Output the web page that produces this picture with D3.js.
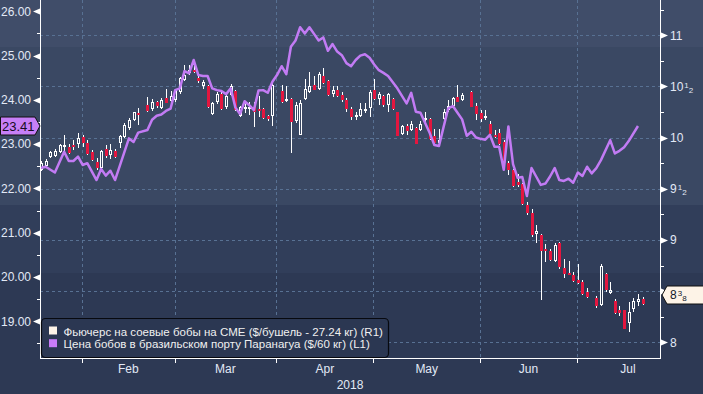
<!DOCTYPE html>
<html>
<head>
<meta charset="utf-8">
<script src="https://cdn.jsdelivr.net/npm/d3@7"></script>
<style>
    body { margin: 0; background: #2c3853; }
    #app { width: 703px; height: 394px; overflow: hidden; }
    text { font-family: 'Liberation Sans', Arial, sans-serif; }
</style>
</head>
<body>
<div id="app"></div>
<script>
;(()=>{

    // trading days are weekdays from 18 Jan 2018, null = exchange closed
    const first_day = new Date(Date.UTC(2018, 0, 18))

    const cme_open = [
        9.68, 9.72, 9.81, 9.82, 9.86, 9.91, 9.91, 9.93, 9.94, 10.01,
        9.95, 9.86, 9.76, 9.70, 9.89, 9.83, 9.87, 9.95, 10.01, 10.09,
        10.17, 10.24, null, 10.32, 10.28, 10.35, 10.29, 10.39, 10.36, 10.37,
        10.45, 10.56, 10.63, 10.66, 10.58, 10.50, 10.50, 10.23, 10.35, 10.43,
        10.30, 10.42, 10.46, 10.21, 10.28, 10.29, 10.30, 10.28, 10.28, 10.21,
        10.21, null, 10.46, 10.36, 10.38, 10.16, 10.03, 10.38, 10.45, 10.51,
        10.48, 10.60, 10.55, 10.43, 10.47, 10.42, 10.37, 10.28, 10.21, 10.21,
        10.26, 10.29, 10.47, 10.38, 10.41, 10.32, 10.38, 10.25, 10.04, 10.11,
        10.07, 10.09, 10.07, 10.17, 10.18, 10.02, 9.95, 10.18, 10.27, 10.31,
        10.40, 10.37, null, 10.45, 10.31, 10.24, 10.19, 10.13, 10.03, 10.05,
        9.96, 9.75, 9.68, 9.57, 9.55, 9.34, 9.26, 9.06, 9.05, 8.91,
        8.89, 8.79, 8.97, 8.73, 8.68, 8.66, 8.61, 8.59, 8.49, null,
        8.43, 8.36, 8.67, 8.48, 8.40, 8.32, 8.32, 8.19, 8.33, 8.39, 8.42
    ]
    const cme_high = [
        9.77, 9.79, 9.87, 9.89, 9.94, 10.03, 9.94, 9.98, 10.05, 10.03,
        9.98, 9.88, 9.80, 9.88, 9.93, 9.94, 9.89, 10.03, 10.14, 10.19,
        10.25, 10.29, null, 10.40, 10.38, 10.36, 10.39, 10.48, 10.46, 10.48,
        10.59, 10.71, 10.71, 10.76, 10.60, 10.56, 10.51, 10.35, 10.45, 10.45,
        10.43, 10.52, 10.47, 10.31, 10.34, 10.35, 10.35, 10.41, 10.29, 10.22,
        10.53, null, 10.51, 10.50, 10.39, 10.35, 10.37, 10.57, 10.64, 10.60,
        10.64, 10.68, 10.56, 10.50, 10.50, 10.45, 10.39, 10.30, 10.25, 10.34,
        10.34, 10.47, 10.57, 10.45, 10.42, 10.44, 10.39, 10.25, 10.12, 10.13,
        10.16, 10.10, 10.16, 10.25, 10.19, 10.08, 10.08, 10.28, 10.37, 10.40,
        10.51, 10.44, null, 10.46, 10.34, 10.27, 10.27, 10.16, 10.07, 10.08,
        9.98, 9.77, 9.69, 9.64, 9.56, 9.37, 9.30, 9.15, 9.06, 8.96,
        8.91, 8.97, 8.98, 8.81, 8.79, 8.69, 8.77, 8.61, 8.53, null,
        8.45, 8.77, 8.68, 8.59, 8.42, 8.35, 8.32, 8.39, 8.43, 8.47, 8.44
    ]
    const cme_low = [
        9.67, 9.71, 9.80, 9.81, 9.85, 9.83, 9.84, 9.88, 9.90, 9.91,
        9.83, 9.77, 9.68, 9.69, 9.80, 9.79, 9.80, 9.90, 10.00, 10.07,
        10.16, 10.12, null, 10.25, 10.26, 10.29, 10.28, 10.34, 10.35, 10.35,
        10.43, 10.55, 10.61, 10.63, 10.53, 10.48, 10.29, 10.22, 10.33, 10.27,
        10.28, 10.41, 10.26, 10.20, 10.24, 10.22, 10.10, 10.20, 10.18, 10.16,
        10.11, null, 10.34, 10.35, 9.85, 10.14, 10.03, 10.37, 10.44, 10.47,
        10.47, 10.52, 10.41, 10.40, 10.40, 10.35, 10.25, 10.17, 10.17, 10.20,
        10.24, 10.20, 10.37, 10.32, 10.30, 10.25, 10.27, 10.02, 10.03, 10.03,
        10.06, 9.94, 10.06, 10.14, 9.98, 9.94, 9.94, 10.17, 10.25, 10.30,
        10.35, 10.36, null, 10.30, 10.17, 10.15, 10.17, 10.02, 10.00, 9.93,
        9.73, 9.63, 9.52, 9.52, 9.34, 9.24, 9.03, 8.97, 8.41, 8.78,
        8.79, 8.78, 8.72, 8.63, 8.66, 8.59, 8.57, 8.46, 8.43, null,
        8.34, 8.35, 8.49, 8.47, 8.28, 8.26, 8.13, 8.10, 8.30, 8.35, 8.36
    ]
    const cme_close = [
        9.75, 9.77, 9.86, 9.87, 9.93, 9.93, 9.85, 9.92, 10.00, 9.95,
        9.84, 9.78, 9.70, 9.87, 9.82, 9.88, 9.81, 10.02, 10.12, 10.17,
        10.25, 10.22, null, 10.26, 10.35, 10.31, 10.37, 10.34, 10.41, 10.47,
        10.58, 10.61, 10.66, 10.64, 10.55, 10.54, 10.30, 10.34, 10.43, 10.28,
        10.41, 10.50, 10.27, 10.30, 10.30, 10.30, 10.25, 10.26, 10.19, 10.18,
        10.51, null, 10.35, 10.38, 10.15, 10.32, 10.34, 10.48, 10.50, 10.47,
        10.62, 10.53, 10.42, 10.47, 10.41, 10.37, 10.28, 10.20, 10.22, 10.28,
        10.28, 10.45, 10.38, 10.43, 10.32, 10.43, 10.28, 10.02, 10.11, 10.06,
        10.13, 9.94, 10.13, 10.19, 9.99, 9.95, 9.98, 10.25, 10.31, 10.39,
        10.35, 10.42, null, 10.30, 10.23, 10.18, 10.21, 10.04, 10.01, 9.94,
        9.75, 9.68, 9.53, 9.54, 9.35, 9.26, 9.05, 9.09, 8.89, 8.89,
        8.80, 8.95, 8.74, 8.67, 8.67, 8.60, 8.58, 8.47, 8.44, null,
        8.35, 8.75, 8.51, 8.51, 8.29, 8.29, 8.13, 8.30, 8.40, 8.42, 8.375
    ]

    // Paranagua price, $/60 kg (left axis); null = no vertex that day
    const paranagua = [
        22.46, 22.49, null, 22.36, null, 22.83, 22.62, 22.62, 22.72, 22.53,
        22.57, null, 22.19, 22.44, 22.29, 22.40, 22.19, null, null, 23.13,
        23.05, 23.26, null, 23.32, 23.55, 23.64, 23.67, 23.75, 23.80, 24.22,
        24.26, 24.65, 24.60, 24.90, 24.56, 24.54, 24.54, 24.26, 24.22, 24.20,
        24.13, 24.26, 23.83, 23.68, 23.97, 23.88, 23.77, 24.21, 24.22, 24.16,
        24.41, 24.56, 24.76, 24.58, 25.20, 25.34, 25.64, 25.50, 25.64, 25.49,
        25.34, 25.41, 25.11, 25.26, 25.09, 25.01, 24.83, 24.76, 24.90, 25.00,
        25.03, 24.95, 24.80, 24.67, 24.61, 24.54, null, 24.26, null, 23.92,
        24.16, 23.73, 23.71, null, 23.25, 22.98, 22.96, 23.39, 23.81, 23.86,
        23.71, 23.56, 23.19, 23.28, 23.15, 23.12, 23.10, 23.21, 22.94, 22.94,
        22.42, 23.40, 22.55, 22.24, 22.26, 21.83, 22.46, 22.27, 22.08, 22.11,
        22.27, 22.46, 22.19, 22.17, 22.22, 22.13, 22.36, 22.28, 22.49, 22.34,
        22.46, 22.64, null, 23.09, 22.79, 22.85, 22.93, 23.07, null, 23.41
    ]

    const left_ticks = [19, 20, 21, 22, 23, 24, 25, 26]
    const left_minor = [18.5, 19.5, 20.5, 21.5, 22.5, 23.5, 24.5, 25.5]
    const right_ticks = [8, 8.5, 9, 9.5, 10, 10.5, 11]
    const right_minor = [8.25, 8.75, 9.25, 9.75, 10.25, 10.75, 11.25]
    const month_labels = ['Feb', 'Mar', 'Apr', 'May', 'Jun', 'Jul']
    const year_label = '2018'
    const legend_labels = [
        'Фьючерс на соевые бобы на CME ($/бушель - 27.24 кг) (R1)',
        'Цена бобов в бразильском порту Паранагуа ($/60 кг) (L1)'
    ]
    const last_left = 23.41
    const last_right = 8.375

    const width = 703
    const height = 394
    const plot_left = 40
    const plot_right = 660
    const plot_bottom = 358

    const red = '#e3163f'
    const white = '#ffffff'
    const purple = '#c27bf4'
    const tick_text = '#e2e9f6'

    const days = d3.utcDay
        .range(first_day, new Date(Date.UTC(2018, 7, 10)))
        .filter(d => d.getUTCDay() % 6 !== 0)

    const x_scale = d3
        .scaleLinear()
        .domain([0, 130])
        .range([41, 642.6])

    const y_left = d3
        .scaleLinear()
        .domain([19, 26])
        .range([321.3, 11.3])

    const y_right = d3
        .scaleLinear()
        .domain([8, 11])
        .range([342.3, 35.3])

    const svg = d3
        .create('svg')
        .attr('viewBox', [0, 0, width, height])
        .attr('width', width)
        .attr('height', height)

    // background bands
    const bands = [
        {y0: 0, y1: 47, fill: '#404d69'},
        {y0: 47, y1: 205, fill: '#3a4863'},
        {y0: 205, y1: 273, fill: '#313e5a'},
        {y0: 273, y1: height, fill: '#2d3954'}
    ]
    svg
        .append('g')
        .selectAll('rect')
        .data(bands)
        .join('rect')
        .attr('x', 0)
        .attr('y', d => d.y0)
        .attr('width', width)
        .attr('height', d => d.y1 - d.y0)
        .attr('fill', d => d.fill)

    // month positions
    const month_index = month_labels.map((m, k) => days.findIndex(d => d.getUTCMonth() === k + 1))
    month_index.push(days.findIndex(d => d.getUTCMonth() === 7))
    const month_x = month_index.map(i => x_scale(i - 1.15))

    // grid
    const grid = svg.append('g')
        .attr('stroke', '#587193')
        .attr('stroke-dasharray', '3,3')
        .attr('stroke-width', 1)

    grid
        .selectAll('line.h')
        .data(right_ticks)
        .join('line')
        .attr('class', 'h')
        .attr('x1', plot_left)
        .attr('x2', plot_right)
        .attr('y1', d => Math.round(y_right(d)) + 0.5)
        .attr('y2', d => Math.round(y_right(d)) + 0.5)

    grid
        .selectAll('line.v')
        .data(month_x.slice(0, 6))
        .join('line')
        .attr('class', 'v')
        .attr('x1', d => Math.round(d) + 0.5)
        .attr('x2', d => Math.round(d) + 0.5)
        .attr('y1', 0)
        .attr('y2', plot_bottom)

    // candles
    const candles = cme_open
        .map((o, i) => ({i, o, h: cme_high[i], l: cme_low[i], c: cme_close[i]}))
        .filter(d => d.o != null)

    const candle_g = svg.append('g')

    candles.forEach(d => {
        const cx = Math.round(x_scale(d.i))
        const up = d.c >= d.o
        const top = Math.round(y_right(Math.max(d.o, d.c)))
        const bot = Math.round(y_right(Math.min(d.o, d.c)))
        const hi = Math.round(y_right(d.h))
        const lo = Math.round(y_right(d.l))

        candle_g.append('line')
            .attr('x1', cx + 0.5).attr('x2', cx + 0.5)
            .attr('y1', hi).attr('y2', top)
            .attr('stroke', white)
        candle_g.append('line')
            .attr('x1', cx + 0.5).attr('x2', cx + 0.5)
            .attr('y1', bot).attr('y2', lo)
            .attr('stroke', white)

        if (up) {
            candle_g.append('rect')
                .attr('x', cx - 0.5)
                .attr('y', top + 0.5)
                .attr('width', 2)
                .attr('height', Math.max(1, bot - top - 1))
                .attr('fill', 'none')
                .attr('stroke', white)
        } else {
            candle_g.append('rect')
                .attr('x', cx - 1)
                .attr('y', top)
                .attr('width', 3)
                .attr('height', Math.max(2, bot - top))
                .attr('fill', red)
        }
    })

    // Paranagua line
    const purple_points = paranagua
        .map((v, i) => ({i, v}))
        .filter(d => d.v != null)

    svg
        .append('path')
        .datum(purple_points)
        .attr('d', d3.line()
            .x(d => x_scale(d.i))
            .y(d => y_left(d.v))
        )
        .attr('fill', 'none')
        .attr('stroke', purple)
        .attr('stroke-width', 2.5)
        .attr('stroke-linejoin', 'round')

    // axes lines
    const axis = svg.append('g').attr('stroke', white).attr('stroke-width', 1)
    axis.append('line')
        .attr('x1', plot_left + 0.5).attr('x2', plot_left + 0.5)
        .attr('y1', 0).attr('y2', plot_bottom + 0.5)
    axis.append('line')
        .attr('x1', plot_right + 0.5).attr('x2', plot_right + 0.5)
        .attr('y1', 0).attr('y2', plot_bottom + 0.5)
    axis.append('line')
        .attr('x1', plot_left).attr('x2', plot_right + 1)
        .attr('y1', plot_bottom + 0.5).attr('y2', plot_bottom + 0.5)

    // left axis
    axis
        .selectAll('line.lm')
        .data(left_minor)
        .join('line')
        .attr('class', 'lm')
        .attr('x1', plot_left - 3).attr('x2', plot_left)
        .attr('y1', d => Math.round(y_left(d)) + 0.5)
        .attr('y2', d => Math.round(y_left(d)) + 0.5)

    svg.append('g')
        .selectAll('path')
        .data(left_ticks)
        .join('path')
        .attr('d', d => {
            const y = Math.round(y_left(d)) + 0.5
            return `M${plot_left - 7},${y} L${plot_left},${y - 3} L${plot_left},${y + 3} Z`
        })
        .attr('fill', white)

    svg.append('g')
        .selectAll('text')
        .data(left_ticks)
        .join('text')
        .attr('x', 31)
        .attr('y', d => y_left(d))
        .attr('dy', '0.36em')
        .attr('text-anchor', 'end')
        .attr('fill', tick_text)
        .style('font-size', '12px')
        .text(d => d3.format('.2f')(d))

    // right axis (the 8 1/2 label sits behind the last-price flag, as in the source)
    axis
        .selectAll('line.rm')
        .data(right_minor)
        .join('line')
        .attr('class', 'rm')
        .attr('x1', plot_right).attr('x2', plot_right + 4)
        .attr('y1', d => Math.round(y_right(d)) + 0.5)
        .attr('y2', d => Math.round(y_right(d)) + 0.5)

    svg.append('g')
        .selectAll('path')
        .data(right_ticks)
        .join('path')
        .attr('d', d => {
            const y = Math.round(y_right(d)) + 0.5
            return `M${plot_right + 8},${y} L${plot_right + 1},${y - 3} L${plot_right + 1},${y + 3} Z`
        })
        .attr('fill', white)

    const right_labels = svg.append('g')
        .selectAll('text')
        .data(right_ticks)
        .join('text')
        .attr('x', 670)
        .attr('y', d => y_right(d))
        .attr('dy', '0.36em')
        .attr('fill', tick_text)
        .style('font-size', '12px')

    right_labels.append('tspan').text(d => Math.floor(d))
    right_labels.filter(d => d % 1 !== 0)
        .append('tspan')
        .attr('dx', 1)
        .attr('dy', -3)
        .style('font-size', '8px')
        .text('1')
    right_labels.filter(d => d % 1 !== 0)
        .append('tspan')
        .attr('dx', 0)
        .attr('dy', 5)
        .style('font-size', '8px')
        .text('2')

    // x axis
    axis
        .selectAll('line.mt')
        .data(month_x.slice(0, 6))
        .join('line')
        .attr('class', 'mt')
        .attr('x1', d => Math.round(d) + 0.5)
        .attr('x2', d => Math.round(d) + 0.5)
        .attr('y1', plot_bottom)
        .attr('y2', plot_bottom + 5)

    svg.append('g')
        .selectAll('text')
        .data(month_labels)
        .join('text')
        .attr('x', (d, k) => (month_x[k] + month_x[k + 1]) / 2)
        .attr('y', 373)
        .attr('text-anchor', 'middle')
        .attr('fill', tick_text)
        .style('font-size', '12px')
        .text(d => d)

    svg.append('text')
        .attr('x', (plot_left + plot_right) / 2)
        .attr('y', 389)
        .attr('text-anchor', 'middle')
        .attr('fill', tick_text)
        .style('font-size', '12px')
        .text(year_label)

    // last value labels
    const ly = Math.round(y_left(last_left))
    svg.append('path')
        .attr('d', `M0.5,${ly - 9} L35,${ly - 9} L40,${ly} L35,${ly + 9} L0.5,${ly + 9} Z`)
        .attr('fill', '#c77ff7')
        .attr('stroke', '#111')
    svg.append('text')
        .attr('x', 2)
        .attr('y', ly)
        .attr('dy', '0.36em')
        .attr('fill', '#160c24')
        .style('font-size', '13px')
        .text(d3.format('.2f')(last_left))

    const ry = Math.round(y_right(last_right)) - 9
    svg.append('path')
        .attr('d', `M662,${ry} L667,${ry - 9} L704,${ry - 9} L704,${ry + 9} L667,${ry + 9} Z`)
        .attr('fill', '#fdf3e7')
        .attr('stroke', '#111')
    const rl = svg.append('text')
        .attr('x', 670)
        .attr('y', ry)
        .attr('dy', '0.36em')
        .attr('fill', '#10182a')
        .style('font-size', '12px')
    rl.append('tspan').text(Math.floor(last_right))
    rl.append('tspan').attr('dx', 1).attr('dy', -3).style('font-size', '8px').text('3')
    rl.append('tspan').attr('dy', 5).style('font-size', '8px').text('8')

    // legend
    const legend = svg.append('g')
    legend.append('rect')
        .attr('x', 41.5)
        .attr('y', 318.5)
        .attr('width', 347)
        .attr('height', 39)
        .attr('rx', 4)
        .attr('fill', '#2b3752')
        .attr('stroke', '#07090f')
        .attr('stroke-width', 1.2)

    const legend_colors = ['#fdf3e8', '#c87cf8']
    legend.selectAll('rect.sw')
        .data(legend_labels)
        .join('rect')
        .attr('class', 'sw')
        .attr('x', 49)
        .attr('y', (d, k) => 326.5 + k * 12.7)
        .attr('width', 8)
        .attr('height', 8)
        .attr('fill', (d, k) => legend_colors[k])

    legend.selectAll('text')
        .data(legend_labels)
        .join('text')
        .attr('x', 63.5)
        .attr('y', (d, k) => 335.5 + k * 12.7)
        .attr('fill', '#f0f0f0')
        .style('font-size', '11.5px')
        .text(d => d)

    d3.select('#app').append(() => svg.node())

})()
</script>
</body>
</html>
